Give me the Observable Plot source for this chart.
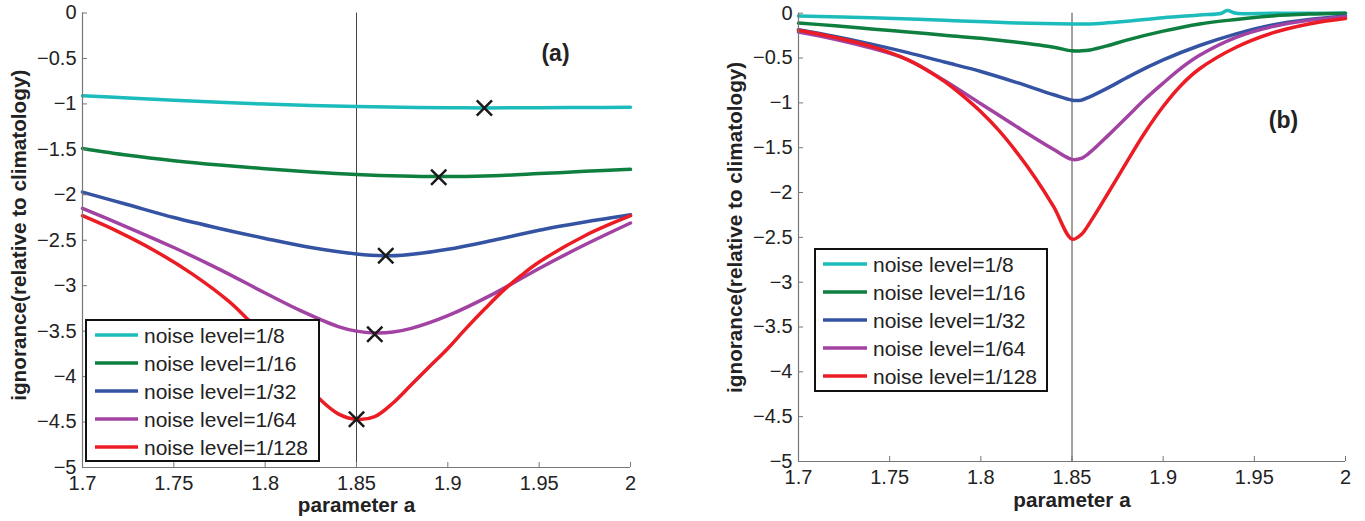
<!DOCTYPE html>
<html><head><meta charset="utf-8">
<script src="https://cdn.jsdelivr.net/npm/d3@7"></script>
<script src="https://cdn.jsdelivr.net/npm/@observablehq/plot@0.6"></script>
<style>
body{margin:0;background:#fff;font-family:"Liberation Sans",Arial,Helvetica,sans-serif;}
#wrap{position:relative;width:1365px;height:521px;overflow:hidden;background:#fff;}
.panel{position:absolute;top:0;}
.legend{position:absolute;background:#fff;border:2px solid #111;box-sizing:border-box;font-size:21px;color:#222;}
.legend .row{position:absolute;left:0;height:28px;width:100%;}
.legend .row svg{position:absolute;top:0;}
.legend .row span{position:absolute;top:1px;line-height:28px;white-space:nowrap;}
</style></head><body><div id="wrap"></div>
<script>
// ---------- data ----------
const seriesNames = ["noise level=1/8","noise level=1/16","noise level=1/32","noise level=1/64","noise level=1/128"];
const seriesColors = ["#1cbcbc","#0e7f3e","#3453a3","#a242a2","#ec1c24"];
const xTicks = [1.7,1.75,1.8,1.85,1.9,1.95,2];
const yTicks = [0,-0.5,-1,-1.5,-2,-2.5,-3,-3.5,-4,-4.5,-5];
const xTitle = "parameter a";
const yTitle = "ignorance(relative to climatology)";
const truthA = 1.85;

// panel (a)
const a_n8 = [[1.7,-0.91],[1.725,-0.935],[1.75,-0.96],[1.775,-0.983],[1.8,-1.002],[1.825,-1.018],[1.85,-1.029],[1.875,-1.037],[1.9,-1.042],[1.92,-1.044],[1.95,-1.042],[1.975,-1.04],[2.0,-1.037]];
const a_n16 = [[1.7,-1.49],[1.725,-1.565],[1.75,-1.625],[1.775,-1.673],[1.8,-1.713],[1.825,-1.748],[1.85,-1.776],[1.875,-1.794],[1.895,-1.80],[1.925,-1.79],[1.95,-1.767],[1.975,-1.742],[2.0,-1.72]];
const a_n32 = [[1.7,-1.97],[1.725,-2.11],[1.75,-2.25],[1.775,-2.37],[1.8,-2.48],[1.825,-2.58],[1.85,-2.65],[1.865,-2.67],[1.875,-2.665],[1.9,-2.6],[1.925,-2.5],[1.95,-2.39],[1.975,-2.3],[2.0,-2.22]];
const a_n64 = [[1.7,-2.15],[1.725,-2.36],[1.75,-2.58],[1.775,-2.82],[1.8,-3.08],[1.82,-3.28],[1.84,-3.45],[1.85,-3.50],[1.86,-3.52],[1.87,-3.51],[1.88,-3.47],[1.9,-3.33],[1.925,-3.09],[1.95,-2.81],[1.975,-2.55],[2.0,-2.31]];
const a_n128 = [[1.7,-2.23],[1.72,-2.41],[1.74,-2.62],[1.76,-2.87],[1.78,-3.17],[1.79,-3.36],[1.8,-3.56],[1.81,-3.79],[1.82,-4.03],[1.83,-4.25],[1.84,-4.41],[1.85,-4.47],[1.86,-4.44],[1.87,-4.29],[1.88,-4.09],[1.89,-3.89],[1.9,-3.69],[1.91,-3.47],[1.92,-3.26],[1.93,-3.06],[1.94,-2.89],[1.95,-2.74],[1.975,-2.45],[2.0,-2.23]];
const a_minima = [[1.92,-1.045],[1.895,-1.806],[1.866,-2.67],[1.86,-3.535],[1.85,-4.47]];

// panel (b)
const b_n8 = [[1.7,-0.03],[1.74,-0.05],[1.78,-0.08],[1.82,-0.11],[1.85,-0.12],[1.86,-0.12],[1.88,-0.09],[1.9,-0.05],[1.92,-0.02],[1.932,0.0],[1.935,0.03],[1.94,0.0],[1.96,0.0],[2.0,0.0]];
const b_n16 = [[1.7,-0.11],[1.72,-0.14],[1.74,-0.175],[1.76,-0.21],[1.78,-0.245],[1.8,-0.28],[1.82,-0.325],[1.84,-0.38],[1.85,-0.42],[1.855,-0.42],[1.86,-0.41],[1.87,-0.36],[1.88,-0.30],[1.9,-0.20],[1.92,-0.12],[1.94,-0.07],[1.96,-0.03],[1.98,-0.01],[2.0,0.0]];
const b_n32 = [[1.7,-0.185],[1.72,-0.26],[1.74,-0.345],[1.76,-0.44],[1.78,-0.545],[1.8,-0.65],[1.82,-0.775],[1.84,-0.91],[1.85,-0.97],[1.855,-0.97],[1.86,-0.93],[1.87,-0.83],[1.88,-0.72],[1.89,-0.615],[1.9,-0.52],[1.92,-0.36],[1.94,-0.23],[1.96,-0.13],[1.98,-0.07],[2.0,-0.03]];
const b_n64 = [[1.7,-0.21],[1.72,-0.29],[1.74,-0.39],[1.76,-0.52],[1.78,-0.75],[1.8,-1.01],[1.82,-1.27],[1.84,-1.52],[1.85,-1.63],[1.855,-1.62],[1.86,-1.55],[1.87,-1.36],[1.88,-1.16],[1.89,-0.96],[1.9,-0.78],[1.91,-0.61],[1.92,-0.47],[1.94,-0.27],[1.96,-0.15],[1.98,-0.08],[2.0,-0.04]];
const b_n128 = [[1.7,-0.19],[1.72,-0.27],[1.74,-0.37],[1.76,-0.52],[1.77,-0.63],[1.78,-0.76],[1.79,-0.92],[1.8,-1.1],[1.81,-1.31],[1.82,-1.56],[1.83,-1.84],[1.84,-2.16],[1.85,-2.52],[1.855,-2.47],[1.86,-2.33],[1.87,-2.0],[1.88,-1.66],[1.89,-1.33],[1.9,-1.04],[1.91,-0.80],[1.92,-0.62],[1.94,-0.38],[1.96,-0.22],[1.98,-0.12],[2.0,-0.06]];

// ---------- build ----------
function toRows(list){
  const rows = [];
  list.forEach((pts,i)=>pts.forEach(([x,y])=>rows.push({x,y,series:seriesNames[i]})));
  return rows;
}
const fmtY = d => d === 0 ? "0" : "\u2212" + String(-d);
const FONT = '"Liberation Sans", Arial, Helvetica, sans-serif';

function makePanel(o){
  const marks = [
    Plot.ruleX([truthA], {stroke:"#444", strokeWidth:1}),
    Plot.line(o.rows, {x:"x", y:"y", z:"series", stroke:"series", strokeWidth:3.5, curve:"catmull-rom"}),
  ];
  if (o.markers) marks.push(Plot.dot(o.markers, {x:d=>d[0], y:d=>d[1], symbol:"times", r:7, stroke:"#1a1a1a", strokeWidth:2.5}));
  marks.push(
    Plot.ruleX([xTicks[0]], {stroke:"#777", strokeWidth:1.2}),
    Plot.ruleY([yTicks[yTicks.length-1]], {stroke:"#777", strokeWidth:1.2}),
    Plot.axisX(xTicks, {anchor:"bottom", tickSize:-5, tickPadding:13, stroke:"#777", fill:"#222", fontSize:20, label:null, tickFormat:d=>String(d)}),
    Plot.axisY(yTicks, {anchor:"left", tickSize:-5, tickPadding:11, stroke:"#777", fill:"#222", fontSize:20, label:null, tickFormat:fmtY}),
    Plot.text([xTitle], {text:d=>d, frameAnchor:"bottom", lineAnchor:"middle", textAnchor:"middle", dy:o.xTitleDy, fontWeight:"bold", fontSize:20.7, fill:"#222"}),
    Plot.text([yTitle], {text:d=>d, frameAnchor:"left", lineAnchor:"middle", textAnchor:"middle", rotate:-90, dx:-63, dy:o.yTitleDy, fontWeight:"bold", fontSize:20.7, fill:"#222"}),
    Plot.text([o.tag], {text:d=>d, frameAnchor:"top-right", lineAnchor:"middle", textAnchor:"middle", dx:o.tagDx, dy:o.tagDy, fontWeight:"bold", fontSize:23, fill:"#222"})
  );
  return Plot.plot({
    width:o.width, height:521,
    marginLeft:o.ml, marginRight:o.mr, marginTop:o.mt, marginBottom:o.mb,
    x:{domain:[1.7,2], label:null},
    y:{domain:[-5,0], label:null},
    color:{domain:seriesNames, range:seriesColors},
    style:{fontFamily:FONT, fontSize:"20px", background:"transparent", overflow:"visible", color:"#222"},
    marks
  });
}

function makeLegend(left, top, w, h, sampleLeft, sampleW, textLeft){
  const box = document.createElement("div");
  box.className = "legend";
  Object.assign(box.style, {left:left+"px", top:top+"px", width:w+"px", height:h+"px"});
  seriesNames.forEach((name,i)=>{
    const row = document.createElement("div");
    row.className = "row";
    row.style.top = (i*28)+"px";
    row.innerHTML = `<svg width="${sampleW}" height="28" style="left:${sampleLeft}px"><line x1="0" x2="${sampleW}" y1="14" y2="14" stroke="${seriesColors[i]}" stroke-width="3.5"/></svg><span style="left:${textLeft}px">${name}</span>`;
    box.appendChild(row);
  });
  return box;
}

const wrap = document.getElementById("wrap");
const pA = makePanel({rows:toRows([a_n8,a_n16,a_n32,a_n64,a_n128]), markers:a_minima, tag:"(a)",
  width:680, ml:82, mr:50, mt:12.5, mb:54, xTitleDy:38, yTitleDy:-5, tagDx:-75, tagDy:40.5});
pA.classList.add("panel"); pA.style.left = "0px";
wrap.appendChild(pA);
const pB = makePanel({rows:toRows([b_n8,b_n16,b_n32,b_n64,b_n128]), markers:null, tag:"(b)",
  width:685, ml:118, mr:20, mt:12.7, mb:60, xTitleDy:39, yTitleDy:-10, tagDx:-62, tagDy:107});
pB.classList.add("panel"); pB.style.left = "680px";
wrap.appendChild(pB);
wrap.appendChild(makeLegend(85, 319, 235, 143, 8, 43, 57));
wrap.appendChild(makeLegend(814, 248, 234, 144, 7, 44, 57));
</script></body></html>
